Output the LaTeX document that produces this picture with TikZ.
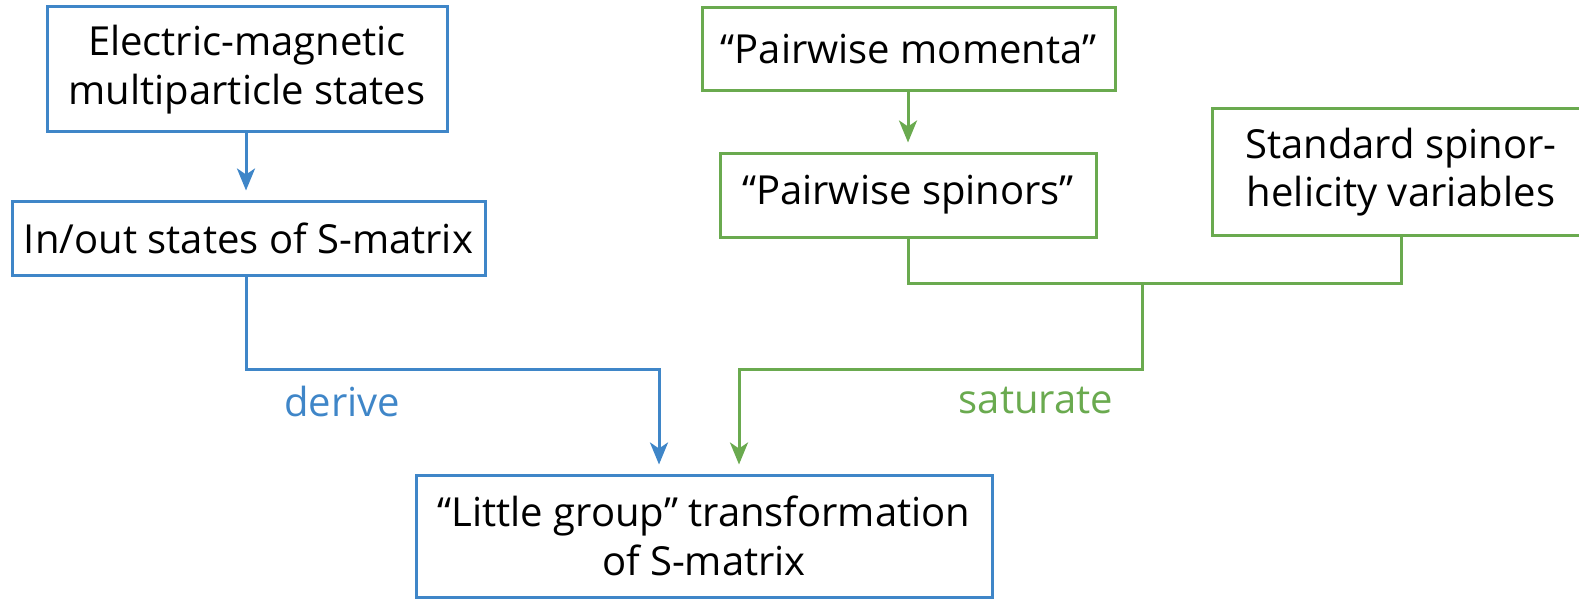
\documentclass[tikz,border=0pt]{standalone}
\usepackage{fontspec}
\setmainfont{Open Sans}
\usetikzlibrary{arrows.meta,calc}
\definecolor{cblue}{HTML}{3F86C8}
\definecolor{cgreen}{HTML}{6AAA4F}
\begin{document}
\begin{tikzpicture}[x=1pt,y=1pt,
  box/.style={draw,line width=3pt,rectangle,align=center,inner sep=0pt,
    font=\fontsize{40}{48.5}\selectfont},
  bbox/.style={box,draw=cblue},
  gbox/.style={box,draw=cgreen},
  conn/.style={line width=3pt},
  tip/.style={-{Stealth[length=22pt,width=18pt,inset=6pt]},shorten >=9pt},
  lbl/.style={font=\fontsize{40}{48.5}\selectfont,inner sep=0pt}]
\useasboundingbox (0,0) rectangle (1579,-599);
\node[bbox,minimum width=400pt,minimum height=125pt] (A) at (247,-69.5) {Electric-magnetic\\multiparticle states};
\node[bbox,minimum width=473pt,minimum height=74pt] (B) at (248.5,-238) {In/out states of S-matrix};
\node[gbox,minimum width=413pt,minimum height=83pt] (C) at (908.5,-49.5) {“Pairwise momenta”};
\node[gbox,minimum width=376pt,minimum height=84pt] (D) at (908,-195) {“Pairwise spinors”};
\node[gbox,minimum width=378pt,minimum height=126pt] (E) at (1401,-172) {Standard spinor-\\helicity variables};
\node[bbox,minimum width=576pt,minimum height=122pt] (F) at (704,-536) {“Little group” transformation\\of S-matrix};
\coordinate (bj) at (246,-369);
\coordinate (gj) at (1142,-283);
\coordinate (gk) at (1142,-369);
\draw[conn,cblue,tip] (A.south -| 246,0) -- (B.north -| 246,0);
\draw[conn,cblue,tip] (B.south -| bj) -- (bj) -| (F.north -| 659,0);
\draw[conn,cgreen,tip] (C.south -| 908,0) -- (D.north -| 908,0);
\draw[conn,cgreen] (D.south -| 908,0) |- (gj) -| (E.south);
\draw[conn,cgreen,tip] (gj) -- (gk) -| (F.north -| 739,0);
\node[lbl,text=cblue] (dl) at (342,-401) {derive};
\node[lbl,text=cgreen] (sl) at (1036,-401) {saturate};
\end{tikzpicture}
\end{document}
